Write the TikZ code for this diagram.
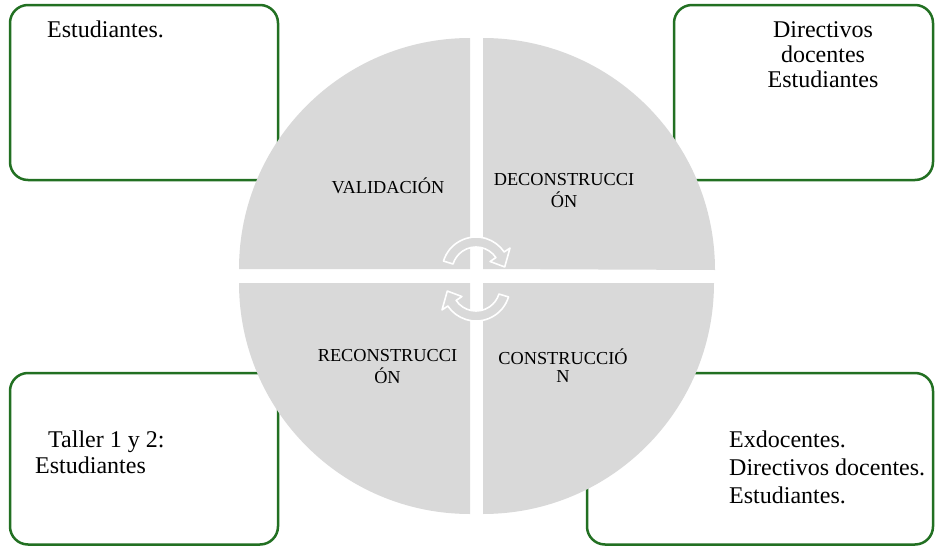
\documentclass[tikz,border=0pt]{standalone}
\usepackage{fontspec}
\setmainfont{Liberation Serif}[Ligatures=TeX]
\newfontfamily\timesfont{Liberation Serif}
\definecolor{boxgreen}{RGB}{34,112,34}
\definecolor{quadgray}{RGB}{217,217,217}
\tikzset{
  infobox/.style={draw=boxgreen, line width=2.5pt, rounded corners=18pt, fill=white},
  quad/.style={fill=quadgray, draw=none},
  cyclearrow/.style={fill=quadgray, draw=white, line width=1.6pt, line join=round},
  boxtext/.style={inner sep=0pt, font=\timesfont\fontsize{24}{25}\selectfont},
  quadtext/.style={inner sep=0pt, font=\timesfont\fontsize{18.3}{18}\selectfont, align=center},
}
\begin{document}
\begin{tikzpicture}[x=1pt,y=1pt]
\useasboundingbox (0,0) rectangle (935,-546);
% boxes
\draw[infobox] (10,-5) rectangle (278,-180);
\draw[infobox] (674,-5) rectangle (933,-180);
\draw[infobox] (10,-373) rectangle (278,-544.5);
\draw[infobox] (587,-373) rectangle (933,-544.5);
% quadrants
\fill[quad] (470,-269) -- (239,-269) arc[start angle=180, end angle=90, radius=231] -- cycle;
\fill[quad] (483,-269) -- (483,-38) arc[start angle=90, end angle=0, radius=232] -- cycle;
\fill[quad] (470,-283) -- (239,-283) arc[start angle=180, end angle=270, radius=231] -- cycle;
\fill[quad] (483,-283) -- (714,-283) arc[start angle=0, end angle=-90, radius=231] -- cycle;
% box texts
\node[boxtext, anchor=base west] (t1) at (47,-37) {Estudiantes.};
\node[boxtext, anchor=north, align=center] (t2) at (823,-19.5) {\strut Directivos\\\strut docentes\\\strut Estudiantes};
\node[boxtext, anchor=north west, align=left, font=\timesfont\fontsize{24}{26}\selectfont] (t3) at (35,-428.8) {\strut\hspace*{13pt}Taller 1 y 2:\\\strut Estudiantes};
\node[boxtext, anchor=north west, align=left, font=\timesfont\fontsize{24}{28}\selectfont] (t4) at (729,-427.4) {\strut Exdocentes.\\\strut Directivos docentes.\\\strut Estudiantes.};
% quadrant texts
\node[quadtext, anchor=base] (q1) at (388,-193) {VALIDACIÓN};
\node[quadtext, anchor=north] (q2) at (564,-172.4) {\strut DECONSTRUCCI\\\strut ÓN};
\node[quadtext, anchor=north] (q3) at (387.5,-348.4) {\strut RECONSTRUCCI\\\strut ÓN};
\node[quadtext, anchor=north] (q4) at (563,-348.4) {\strut CONSTRUCCIÓ\\\strut N};
% circular arrows
\begin{scope}[shift={(476,-271)}]
\draw[cyclearrow] (163:34) arc[start angle=163, end angle=34, radius=34] -- (34:41) -- (8:29) -- (34:17) -- (34:24) arc[start angle=34, end angle=163, radius=24] -- cycle;
\end{scope}
\begin{scope}[shift={(476,-287)}]
\draw[cyclearrow] (343:34) arc[start angle=343, end angle=214, radius=34] -- (214:41) -- (188:29) -- (214:17) -- (214:24) arc[start angle=214, end angle=343, radius=24] -- cycle;
\end{scope}
\end{tikzpicture}
\end{document}
